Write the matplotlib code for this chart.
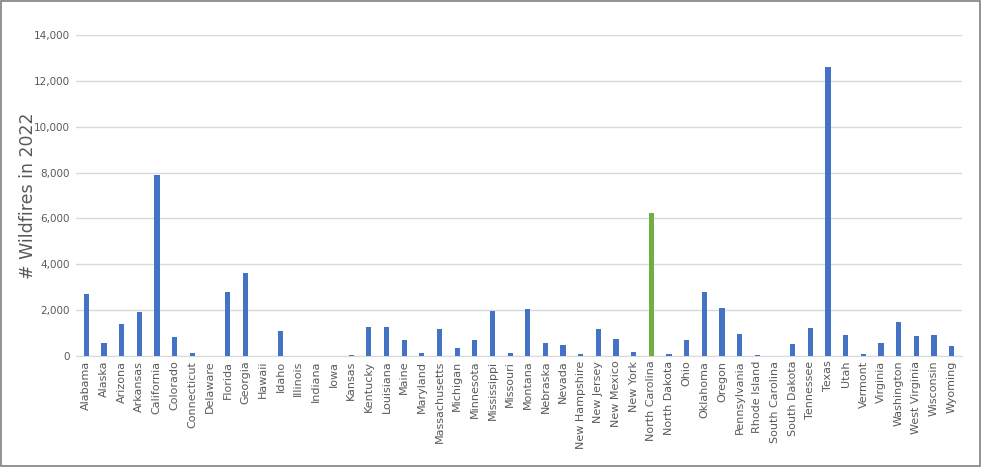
import matplotlib

matplotlib.use("Agg")
import matplotlib.pyplot as plt
from matplotlib.ticker import FuncFormatter

STATES = ["Alabama", "Alaska", "Arizona", "Arkansas", "California", "Colorado", "Connecticut",
          "Delaware", "Florida", "Georgia", "Hawaii", "Idaho", "Illinois", "Indiana", "Iowa",
          "Kansas", "Kentucky", "Louisiana", "Maine", "Maryland", "Massachusetts", "Michigan",
          "Minnesota", "Mississippi", "Missouri", "Montana", "Nebraska", "Nevada",
          "New Hampshire", "New Jersey", "New Mexico", "New York", "North Carolina",
          "North Dakota", "Ohio", "Oklahoma", "Oregon", "Pennsylvania", "Rhode Island",
          "South Carolina", "South Dakota", "Tennessee", "Texas", "Utah", "Vermont",
          "Virginia", "Washington", "West Virginia", "Wisconsin", "Wyoming"]
FIRES = [2700, 570, 1400, 1910, 7910, 820, 130, 0, 2770, 3620, 0, 1070, 0, 0, 0, 40,
         1260, 1260, 700, 120, 1170, 350, 700, 1970, 120, 2060, 540, 480, 90, 1170, 730,
         150, 6250, 90, 690, 2800, 2100, 950, 40, 0, 510, 1210, 12600, 900, 90, 540,
         1470, 880, 920, 410]
HIGHLIGHT = "North Carolina"

fig = plt.figure(figsize=(9.82, 4.67), dpi=100)
fig.patches.append(plt.Rectangle((0.001, 0.002), 0.997, 0.995, transform=fig.transFigure,
                                 fill=False, edgecolor="#7f7f7f", linewidth=1.2))
ax = fig.add_axes([0.077, 0.238, 0.903, 0.687])
colors = ["#70ad47" if s == HIGHLIGHT else "#4472c4" for s in STATES]
ax.bar(range(len(STATES)), FIRES, width=0.3, color=colors, zorder=3)
ax.set_xlim(-0.6, len(STATES) - 0.4)
ax.set_ylim(0, 14000)
ax.set_yticks(range(0, 14001, 2000))
ax.yaxis.set_major_formatter(FuncFormatter(lambda v, p: f"{int(v):,}"))
ax.grid(axis="y", color="#d9d9d9", linewidth=1, zorder=0)
ax.set_xticks(range(len(STATES)))
ax.set_xticklabels(STATES, rotation=90, fontsize=8, color="#595959")
ax.tick_params(axis="y", labelsize=7.5, labelcolor="#595959", length=0, pad=4)
ax.tick_params(axis="x", length=0)
for s in ["top", "right", "left"]:
    ax.spines[s].set_visible(False)
ax.spines["bottom"].set_color("#d9d9d9")
ax.set_ylabel("# Wildfires in 2022", fontsize=12.5, color="#595959")
ax.yaxis.set_label_coords(-0.043, 0.5)
fig.savefig("out.png", dpi=100)
